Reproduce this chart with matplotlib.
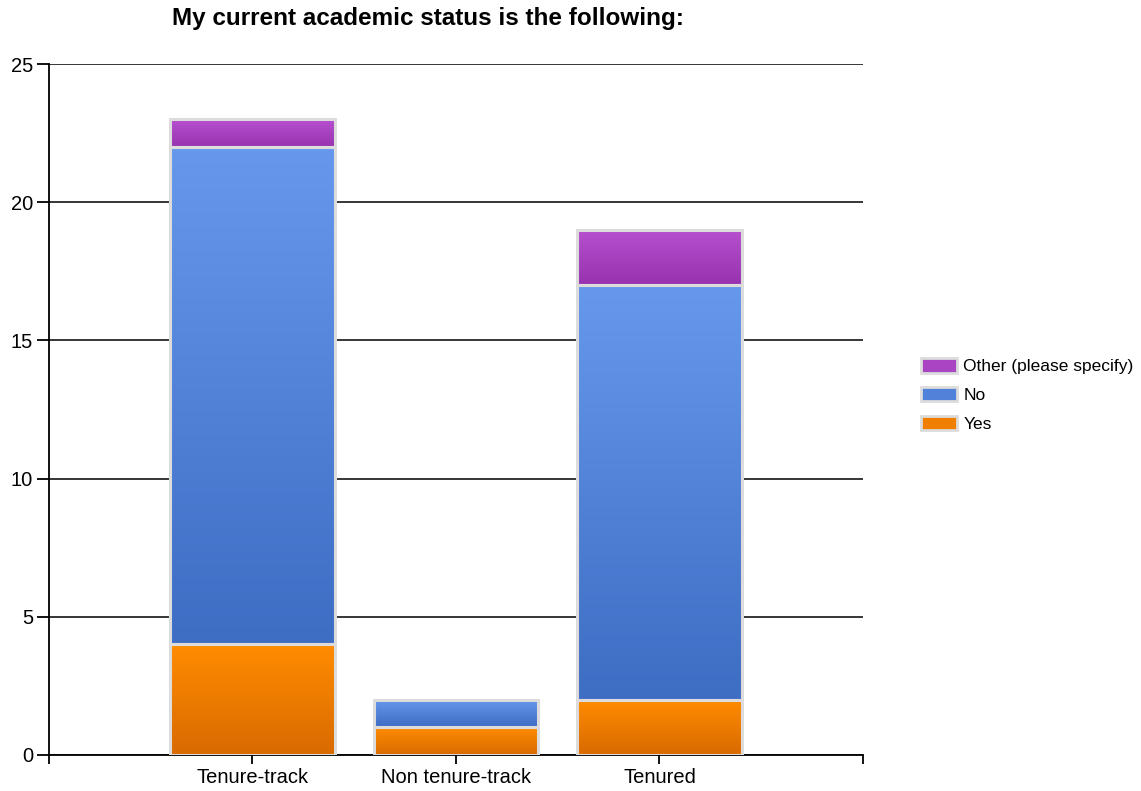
#!/usr/bin/env python3
"""Stacked bar chart: current academic status"""

import numpy as np
import matplotlib.pyplot as plt
from matplotlib.patches import Patch
from matplotlib.colors import LinearSegmentedColormap

plt.rcParams['font.family'] = ['Liberation Sans', 'DejaVu Sans']

categories = ["Tenure-track", "Non tenure-track", "Tenured"]
yes = [4, 1, 2]
no = [18, 1, 15]
other = [1, 0, 2]

# name, values, top colour, bottom colour of the gradient, legend colour
series = [("Yes", yes, "#ff8c00", "#d96a00", "#f07f00"),
          ("No", no, "#6598ec", "#3e6dc4", "#4f82d8"),
          ("Other (please specify)", other, "#b650cf", "#9833af", "#a945c2")]

fig = plt.figure(figsize=(11.41, 7.91), dpi=100)
ax = fig.add_axes([49 / 1141, 1 - 755 / 791, 814 / 1141, 691 / 791])

x = np.arange(len(categories))
width = 0.81
bottom = np.zeros(len(categories))
grad = np.linspace(0, 1, 64).reshape(-1, 1)

for name, vals, top_c, bot_c, _ in series:
    vals = np.array(vals, dtype=float)
    cmap = LinearSegmentedColormap.from_list(name, [bot_c, top_c])
    for xi, b, v in zip(x, bottom, vals):
        if v <= 0:
            continue
        ax.imshow(grad, cmap=cmap, origin='lower', aspect='auto',
                  extent=(xi - width / 2, xi + width / 2, b, b + v),
                  zorder=2, interpolation='bilinear')
    ax.bar(x, vals, width, bottom=bottom, facecolor='none',
           edgecolor='#dcdcdc', linewidth=2.2, zorder=3)
    bottom += vals

ax.set_xlim(-1, 3)
ax.set_ylim(0, 25)
ax.set_yticks([0, 5, 10, 15, 20, 25])
ax.set_xticks([-1, 0, 1, 2, 3])
ax.set_xticklabels([""] + categories + [""])
ax.yaxis.grid(True, color='black', linewidth=1.1, zorder=1)
ax.set_axisbelow(True)
for s in ['top', 'right']:
    ax.spines[s].set_visible(False)
for s in ['left', 'bottom']:
    ax.spines[s].set_linewidth(1.3)
ax.tick_params(axis='y', length=8.5, width=1.3, labelsize=14.5, pad=3)
ax.tick_params(axis='x', length=6.5, width=1.3, labelsize=14.5, pad=3)

fig.text(428 / 1141, 1 - 19 / 791, "My current academic status is the following:",
         ha='center', va='center', fontsize=17.5, fontweight='bold')

order = [2, 1, 0]
handles = [Patch(facecolor=series[i][4], edgecolor='#dcdcdc', linewidth=2)
           for i in order]
labels = [series[i][0] for i in order]
fig.legend(handles, labels, loc='center left',
           bbox_to_anchor=(905 / 1141, 1 - 395 / 791), frameon=False,
           fontsize=12.5, handlelength=2.1, handleheight=0.9,
           handletextpad=0.35, labelspacing=0.72)

fig.savefig("out.png", dpi=100)
